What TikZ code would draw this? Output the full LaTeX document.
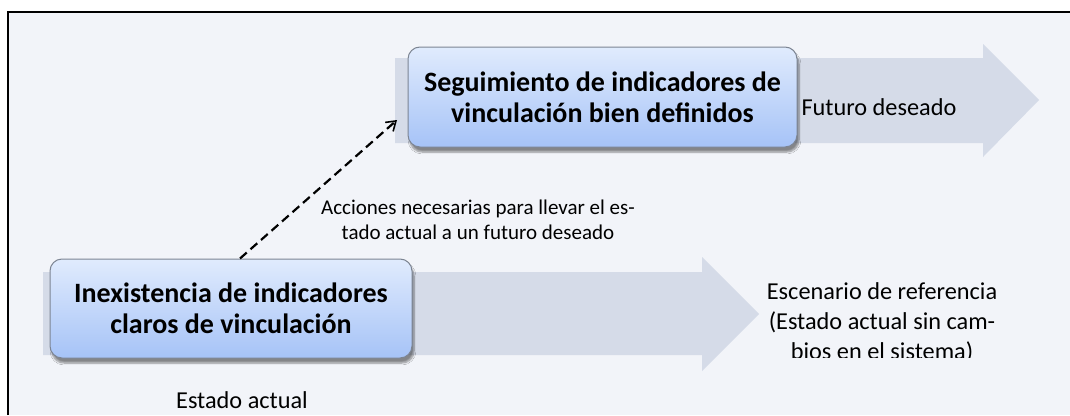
\documentclass[tikz,border=0pt]{standalone}
\usepackage{fontspec}
\setmainfont{Carlito}
\usetikzlibrary{arrows.meta,shadows.blur}

\definecolor{bgcol}{HTML}{F2F4F9}
\definecolor{arrowcol}{HTML}{D5DBE8}
\definecolor{boxtop}{HTML}{E0EBFD}
\definecolor{boxbot}{HTML}{A6C3F7}
\definecolor{boxline}{HTML}{7D8593}

\tikzset{
  stagebox/.style={draw=boxline, line width=1pt, rounded corners=12pt,
    top color=boxtop, bottom color=boxbot, align=center, inner sep=0pt,
    font=\bfseries\fontsize{28}{31}\selectfont,
    blur shadow={shadow xshift=2pt, shadow yshift=-5pt, shadow blur steps=6, shadow opacity=45}},
  stagetext/.style={align=center, font=\fontsize{24.3}{30}\selectfont},
  actiontext/.style={align=center, font=\fontsize{21}{25}\selectfont},
}

\begin{document}
\begin{tikzpicture}[x=1pt, y=-1pt]

\def\xf{8}; % frame left
\def\yf{12}; % frame top

% upper arrow
\def\xtl{395};
\def\xth{983};
\def\xtt{1039};
\def\ytm{100};

% lower arrow
\def\xbl{43};
\def\xbh{702};
\def\xbt{759};
\def\ybm{314};

\useasboundingbox (0,0) rectangle (1070,415);

\fill[bgcol] (\xf,\yf) rectangle (1070,415);
\draw[line width=2pt] (\xf,415) -- (\xf,\yf) -- (1070,\yf);

\fill[arrowcol] (\xtl,\ytm-42) -- (\xth,\ytm-42) -- (\xth,\ytm-56) -- (\xtt,\ytm)
  -- (\xth,\ytm+57) -- (\xth,\ytm+43) -- (\xtl,\ytm+43) -- cycle;
\fill[arrowcol] (\xbl,\ybm-42) -- (\xbh,\ybm-42) -- (\xbh,\ybm-57) -- (\xbt,\ybm)
  -- (\xbh,\ybm+57) -- (\xbh,\ybm+41) -- (\xbl,\ybm+41) -- cycle;

\node[stagebox, minimum width=389pt, minimum height=100pt] (seguim) at (602.5,97)
  {Seguimiento de indicadores de\\vinculación bien definidos};
\node[stagebox, minimum width=362pt, minimum height=99pt] (inexist) at (231,308.5)
  {Inexistencia de indicadores\\claros de vinculación};

\coordinate (accion) at (397,120);
\draw[dashed, line width=2.2pt, dash pattern=on 9pt off 5pt,
  -{Straight Barb[length=9pt, width=12pt, line width=1.6pt]}]
  ([xshift=9pt]inexist.north) -- (accion);

\node[actiontext] (acciones) at (478,219.5)
  {Acciones necesarias para llevar el es-\\tado actual a un futuro deseado};

\node[stagetext, anchor=west] (futuro) at (798,107) {Futuro deseado};
\node[stagetext] (actual) at (242,400) {Estado actual};

\begin{scope}
\clip (600,0) rectangle (1070,357);
\node[stagetext] (escenario) at (882,323)
  {Escenario de referencia\\(Estado actual sin cam-\\bios en el sistema)};
\end{scope}

\end{tikzpicture}
\end{document}
